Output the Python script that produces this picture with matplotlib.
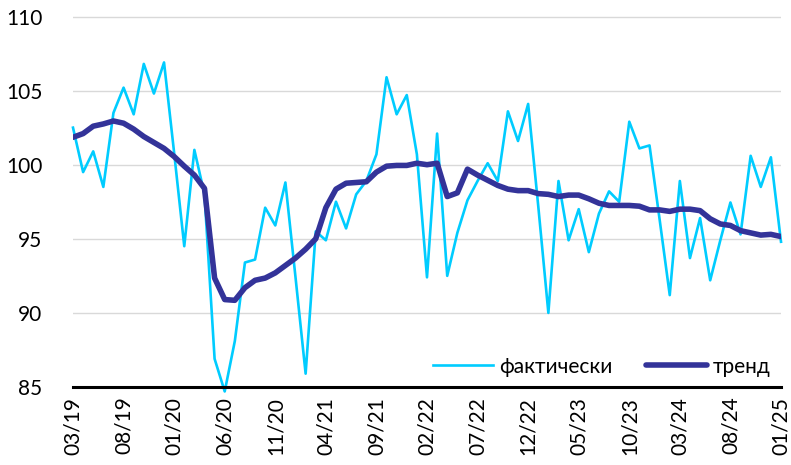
import matplotlib
matplotlib.use("Agg")
import matplotlib.pyplot as plt

plt.rcParams['font.family'] = ['Lato', 'Open Sans', 'DejaVu Sans']

months = []
for k in range(71):
    m = (2 + k) % 12 + 1
    y = 19 + (2 + k) // 12
    months.append(f"{m:02d}/{y:02d}")

fact = [102.5, 99.5, 100.9, 98.5, 103.5, 105.2, 103.4, 106.8, 104.8, 106.9,
        100.8, 94.5, 101.0, 98.0, 86.9, 84.7, 88.1, 93.4, 93.6, 97.1,
        95.9, 98.8, 92.4, 85.9, 95.5, 94.9, 97.5, 95.7, 98.0, 98.9,
        100.7, 105.9, 103.4, 104.7, 100.7, 92.4, 102.1, 92.5, 95.4, 97.6,
        98.9, 100.1, 98.9, 103.6, 101.6, 104.1, 97.2, 90.0, 98.9, 94.9,
        97.0, 94.1, 96.7, 98.2, 97.5, 102.9, 101.1, 101.3, 96.3, 91.2,
        98.9, 93.7, 96.4, 92.2, 94.9, 97.45, 95.3, 100.6, 98.5, 100.5, 94.8]

trend = [101.85, 102.1, 102.6, 102.75, 102.95, 102.8, 102.4, 101.9, 101.5, 101.1,
         100.55, 99.9, 99.3, 98.4, 92.35, 90.9, 90.85, 91.7, 92.2, 92.35,
         92.7, 93.2, 93.7, 94.3, 95.0, 97.1, 98.35, 98.75, 98.8, 98.85,
         99.5, 99.9, 99.95, 99.95, 100.1, 100.0, 100.1, 97.85, 98.1, 99.7,
         99.3, 98.95, 98.6, 98.35, 98.25, 98.25, 98.05, 98.0, 97.85, 97.95,
         97.95, 97.7, 97.4, 97.25, 97.25, 97.25, 97.2, 96.95, 96.95, 96.85,
         97.0, 97.0, 96.9, 96.35, 96.0, 95.9, 95.55, 95.4, 95.25, 95.3, 95.15]

series_names = ["фактически", "тренд"]
y_ticks = [85, 90, 95, 100, 105, 110]

fig = plt.figure(figsize=(7.91, 4.65), dpi=100)
ax = fig.add_axes([73/791, 1 - 387/465, (781-73)/791, (387-16.5)/465])

x = list(range(len(months)))
ax.plot(x, fact, color="#00CCFF", lw=1.9, label=series_names[0], zorder=3, clip_on=False)
ax.plot(x, trend, color="#333399", lw=4.0, label=series_names[1], zorder=4,
        solid_capstyle='round', solid_joinstyle='round')

ax.set_xlim(0, 70)
ax.set_ylim(85, 110)
ax.set_yticks(y_ticks)
ax.set_yticklabels([str(v) for v in y_ticks])
ax.set_xticks(x[::5])
ax.set_xticklabels(months[::5], rotation=90)
ax.tick_params(axis='both', length=0, labelsize=15, colors='black')
ax.tick_params(axis='y', pad=22)
ax.tick_params(axis='x', pad=7)

ax.grid(axis='y', color='#D9D9D9', lw=1.0, zorder=0)
for s in ['top', 'right', 'left']:
    ax.spines[s].set_visible(False)
ax.spines['bottom'].set_color('black')
ax.spines['bottom'].set_linewidth(2.2)
ax.spines['bottom'].set_zorder(5)

leg = ax.legend(loc='lower right', bbox_to_anchor=(1.0, 0.0), ncol=2, frameon=False,
                fontsize=15, handlelength=2.9, handletextpad=0.3, columnspacing=1.6,
                borderaxespad=0.1)

fig.savefig("out.png", dpi=100)
